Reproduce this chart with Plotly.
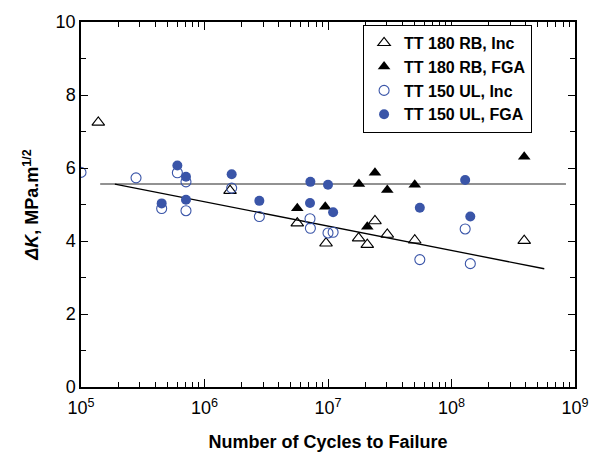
import plotly.graph_objects as go

# ---- data ----
rb_inc_n = [1.38e5, 1.61e6, 5.64e6, 9.64e6, 1.77e7, 2.08e7, 2.40e7, 3.02e7, 5.04e7, 3.88e8]
rb_inc_k = [7.25, 5.38, 4.49, 3.94, 4.08, 3.90, 4.55, 4.18, 4.02, 4.01]

rb_fga_n = [5.64e6, 9.5e6, 1.78e7, 2.08e7, 2.40e7, 3.02e7, 5.04e7, 3.88e8]
rb_fga_k = [4.90, 4.94, 5.56, 4.39, 5.87, 5.40, 5.54, 6.31]

ul_inc_n = [1.0e5, 2.79e5, 4.50e5, 6.03e5, 7.08e5, 7.08e5, 1.66e6, 2.78e6, 7.15e6, 7.2e6,
            1.0e7, 1.10e7, 5.54e7, 1.29e8, 1.42e8]
ul_inc_k = [5.88, 5.73, 4.89, 5.87, 5.62, 4.83, 5.45, 4.67, 4.61, 4.35,
            4.22, 4.24, 3.49, 4.33, 3.38]

ul_fga_n = [6.03e5, 7.08e5, 4.50e5, 7.08e5, 1.66e6, 2.78e6, 7.2e6, 7.15e6, 1.0e7, 1.10e7,
            5.54e7, 1.29e8, 1.42e8]
ul_fga_k = [6.07, 5.76, 5.03, 5.13, 5.83, 5.10, 5.62, 5.04, 5.54, 4.79,
            4.91, 5.67, 4.67]

hline_n = [1.43e5, 8.45e8]
hline_k = [5.56, 5.56]
fit_n = [1.88e5, 5.64e8]
fit_k = [5.56, 3.24]

series_names = ["TT 180 RB, Inc", "TT 180 RB, FGA", "TT 150 UL, Inc", "TT 150 UL, FGA"]

x_tickvals = [1e5, 1e6, 1e7, 1e8, 1e9]
x_ticktext = ["10<sup>5</sup>", "10<sup>6</sup>", "10<sup>7</sup>", "10<sup>8</sup>", "10<sup>9</sup>"]
x_minor = [m * 10 ** e for e in range(5, 9) for m in range(2, 10)]

BLUE = "#3a55a8"
FONT = "Arial, Liberation Sans, sans-serif"

fig = go.Figure()
fig.add_trace(go.Scatter(x=hline_n, y=hline_k, mode="lines",
                         line=dict(color="#6e6e6e", width=1.5), showlegend=False, hoverinfo="skip"))
fig.add_trace(go.Scatter(x=fit_n, y=fit_k, mode="lines",
                         line=dict(color="black", width=1.3), showlegend=False, hoverinfo="skip"))
fig.add_trace(go.Scatter(x=rb_inc_n, y=rb_inc_k, mode="markers", name="<b>%s</b>" % series_names[0],
                         marker=dict(symbol="triangle-up-open", size=11, color="black",
                                     line=dict(width=1.1, color="black"))))
fig.add_trace(go.Scatter(x=rb_fga_n, y=rb_fga_k, mode="markers", name="<b>%s</b>" % series_names[1],
                         marker=dict(symbol="triangle-up", size=11, color="black")))
fig.add_trace(go.Scatter(x=ul_inc_n, y=ul_inc_k, mode="markers", name="<b>%s</b>" % series_names[2],
                         marker=dict(symbol="circle-open", size=10, color=BLUE,
                                     line=dict(width=1.1, color=BLUE))))
fig.add_trace(go.Scatter(x=ul_fga_n, y=ul_fga_k, mode="markers", name="<b>%s</b>" % series_names[3],
                         marker=dict(symbol="circle", size=10, color=BLUE)))

fig.update_layout(
    width=602, height=461,
    margin=dict(l=81, r=27, t=14, b=73),
    paper_bgcolor="white", plot_bgcolor="white",
    font=dict(family=FONT, color="black"),
    legend=dict(x=0.571, y=0.992, xanchor="left", yanchor="top",
                bordercolor="black", borderwidth=1, bgcolor="white",
                font=dict(family=FONT, size=16, color="black"),
                itemwidth=30, tracegroupgap=0),
)
fig.update_xaxes(
    type="log", range=[5, 9],
    tickvals=x_tickvals, ticktext=x_ticktext,
    ticks="inside", ticklen=8, tickwidth=1.2, tickcolor="black",
    minor=dict(tickvals=x_minor, ticks="inside", ticklen=5, tickwidth=1.2, tickcolor="black"),
    showline=True, linewidth=1.5, linecolor="black", mirror="ticks",
    showgrid=False, zeroline=False,
    tickfont=dict(size=18, family=FONT), ticklabelstandoff=4,
    title=dict(text="<b>Number of Cycles to Failure</b>", font=dict(size=18, family=FONT), standoff=18),
)
fig.update_yaxes(
    range=[0, 10], dtick=2, tick0=0,
    ticks="inside", ticklen=7, tickwidth=1.2, tickcolor="black",
    minor=dict(dtick=1, ticks="inside", ticklen=5, tickwidth=1.2, tickcolor="black"),
    showline=True, linewidth=1.5, linecolor="black", mirror="ticks",
    showgrid=False, zeroline=False,
    tickfont=dict(size=18, family=FONT),
    title=dict(text="<b><i>ΔK</i>, MPa.m<sup>1/2</sup></b>", font=dict(size=18, family=FONT), standoff=12),
)

fig.write_html("out.html")
